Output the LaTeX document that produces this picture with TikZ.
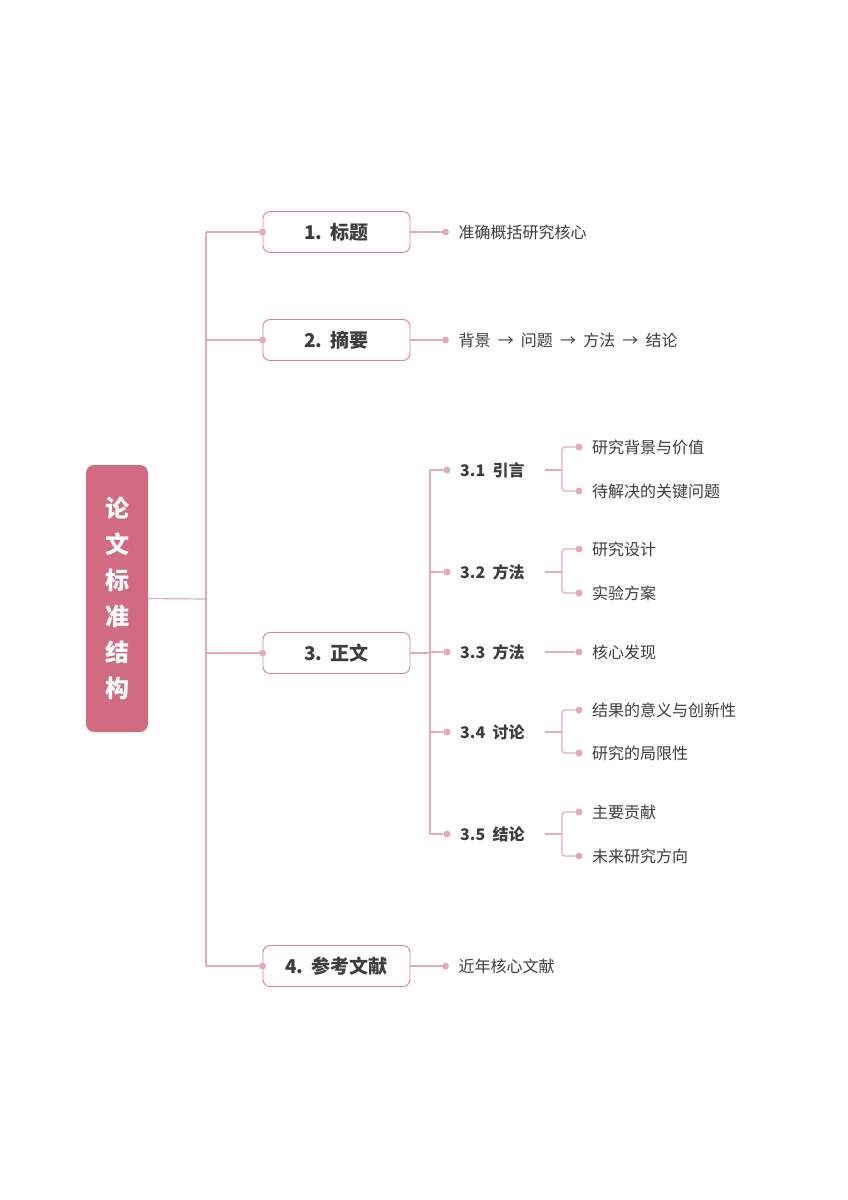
\documentclass[tikz,border=0pt]{standalone}
\usepackage{fontspec}
\setmainfont{Noto Sans CJK SC}
\definecolor{ln}{HTML}{E5AABA}
\definecolor{bd}{HTML}{D9819A}
\definecolor{rootc}{HTML}{D06B82}
\definecolor{tx}{HTML}{3D3D3D}
\begin{document}
\begin{tikzpicture}[x=1pt,y=-1pt,
  conn/.style={draw=ln,line width=1.2pt},
  dotc/.style={circle,fill=ln,inner sep=0pt,minimum size=7pt},
  mainbox/.style={draw=bd,line width=0.9pt,rounded corners=7pt,minimum width=147pt,minimum height=41pt,font=\fontsize{19}{19}\selectfont\bfseries,text=tx,inner sep=0pt},
  sub/.style={anchor=west,font=\fontsize{16}{16}\selectfont\bfseries,text=tx,inner sep=0pt},
  leaf/.style={anchor=west,font=\fontsize{16}{16}\selectfont,text=tx,inner sep=0pt}]
\useasboundingbox (0,0) rectangle (848,1200);
\node[fill=rootc,rounded corners=8pt,minimum width=62pt,minimum height=267pt,inner sep=0pt,text=white,font=\fontsize{24}{36}\selectfont\bfseries,align=center] (root) at (117,598.5) {论\\文\\标\\准\\结\\构};
\coordinate (t) at (206,599);
\draw[conn] (root.east) -- (t);
\draw[conn] (206,232) -- (206,966);
\foreach \n/\y/\lab in {b1/232/{1.\ \ 标题},b2/340/{2.\ \ 摘要},b3/653/{3.\ \ 正文},b4/966/{4.\ \ 参考文献}}{
  \node[mainbox] (\n) at (336.5,\y) {\lab};
  \coordinate (\n l) at (206,\y);
  \draw[conn] (\n l) -- (\n.west);
  \node[dotc] at (\n.west) {};
}
\foreach \n/\txt in {b1/准确概括研究核心,b2/{背景\ \ →\ \ 问题\ \ →\ \ 方法\ \ →\ \ 结论},b4/近年核心文献}{
  \node[dotc] (\n d) at ([xshift=35pt]\n.east) {};
  \draw[conn] (\n.east) -- (\n d);
  \node[leaf] (\n t) at ([xshift=13pt]\n d.center) {\txt};
}
\coordinate (t2) at (430,653);
\draw[conn] (b3.east) -- (t2);
\draw[conn] (430,470) -- (430,834);
\foreach \n/\y/\lab in {s1/470/{3.1\ \ 引言},s2/572/{3.2\ \ 方法},s3/652/{3.3\ \ 方法},s4/732/{3.4\ \ 讨论},s5/834/{3.5\ \ 结论}}{
  \coordinate (\n c) at (430,\y);
  \node[dotc] (\n d) at (447,\y) {};
  \draw[conn] (\n c) -- (\n d);
  \node[sub] (\n) at (460,\y) {\lab};
  \coordinate (\n e) at (545,\y);
}
\foreach \n/\a/\b/\ta/\tb in {s1/447/491/研究背景与价值/待解决的关键问题,s2/549/593/研究设计/实验方案/数据收集与分析方法,s4/710/753/结果的意义与创新性/研究的局限性,s5/812/856/主要贡献/未来研究方向}{
  \node[dotc] (\n da) at (579,\a) {};
  \node[dotc] (\n db) at (579,\b) {};
  \draw[conn] (\n e) -- ++(17,0) coordinate (\n j);
  \draw[conn,rounded corners=3pt] (\n da) -| (\n j) |- (\n db);
  \node[leaf] at (592,\a) {\ta};
  \node[leaf] at (592,\b) {\tb};
}
\node[dotc] (s3da) at (579,652) {};
\draw[conn] (s3e) -- (s3da);
\node[leaf] at (592,652) {核心发现};
\end{tikzpicture}
\end{document}
